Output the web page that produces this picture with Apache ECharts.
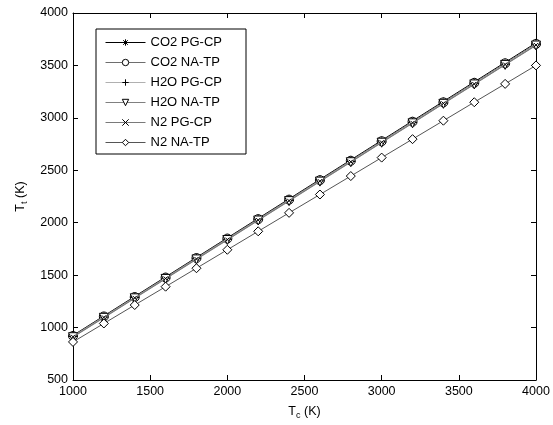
<!DOCTYPE html>
<html>
<head>
<meta charset="utf-8">
<script src="https://cdn.jsdelivr.net/npm/echarts@6/dist/echarts.min.js"></script>
<style>html,body{margin:0;padding:0;background:#fff}#c{width:553px;height:425px}</style>
</head>
<body>
<div id="c"></div>
<script>
const Tc = [1000,1200,1400,1600,1800,2000,2200,2400,2600,2800,3000,3200,3400,3600,3800,4000];
const CO2_PG_CP = [925,1111,1297,1483,1669,1855,2041,2227,2413,2599,2785,2971,3157,3343,3529,3715];
const CO2_NA_TP = [920,1106,1291,1477,1663,1849,2034,2220,2406,2591,2777,2963,3148,3334,3520,3705];
const H2O_PG_CP = [915,1100,1286,1471,1657,1842,2028,2213,2399,2584,2770,2955,3141,3326,3512,3697];
const H2O_NA_TP = [908,1093,1279,1464,1650,1835,2021,2206,2392,2577,2763,2948,3134,3319,3505,3690];
const N2_PG_CP = [912,1097,1283,1468,1654,1839,2025,2210,2396,2581,2767,2952,3138,3323,3509,3694];
const N2_NA_TP = [863,1039,1215,1390,1566,1742,1918,2094,2269,2445,2621,2797,2973,3149,3324,3500];
const seriesNames = ['CO2 PG-CP','CO2 NA-TP','H2O PG-CP','H2O NA-TP','N2 PG-CP','N2 NA-TP'];
const seriesData = [CO2_PG_CP, CO2_NA_TP, H2O_PG_CP, H2O_NA_TP, N2_PG_CP, N2_NA_TP];

const FONT = 'Liberation Sans, Arial, sans-serif';
const styles = [
  {lc:'#000000', sym:'path://M0,-5L0,5M-5,0L5,0M-3.6,-3.6L3.6,3.6M-3.6,3.6L3.6,-3.6', size:8, fill:'none'},
  {lc:'#6e6e6e', sym:'circle', size:9, fill:'#ffffff'},
  {lc:'#b0b0b0', sym:'path://M0,-5L0,5M-5,0L5,0', size:9, fill:'none'},
  {lc:'#808080', sym:'path://M-5,-4L5,-4L0,5Z', size:9, fill:'#ffffff'},
  {lc:'#7a7a7a', sym:'path://M-3,-3L3,3M-3,3L3,-3', size:4, fill:'none'},
  {lc:'#555555', sym:'diamond', size:9, fill:'#ffffff'}
];

const series = seriesNames.map((n, i) => ({
  name: n,
  type: 'line',
  data: Tc.map((x, j) => [x, seriesData[i][j]]),
  symbol: styles[i].sym,
  symbolSize: styles[i].size,
  showSymbol: true,
  lineStyle: {color: styles[i].lc, width: 1},
  itemStyle: {color: styles[i].fill, borderColor: '#000', borderWidth: 1},
  emphasis: {disabled: true},
  animation: false,
  z: 2 + i
}));

const axisCommon = {
  axisLine: {show: true, lineStyle: {color: '#000', width: 1}},
  axisTick: {show: true, inside: true, length: 5, lineStyle: {color: '#000'}},
  splitLine: {show: false}
};
const plainFmt = v => String(v);

const chart = echarts.init(document.getElementById('c'), null, {renderer: 'canvas'});
chart.setOption({
  backgroundColor: '#fff',
  animation: false,
  grid: {left: 73, right: 17, top: 13, bottom: 45, containLabel: false},
  legend: {
    orient: 'vertical',
    left: 96, top: 29,
    padding: [6, 24, 4, 9],
    itemWidth: 40, itemHeight: 8, itemGap: 5,
    borderColor: '#000', borderWidth: 1, backgroundColor: '#fff',
    lineStyle: {width: 1},
    itemStyle: {borderWidth: 1},
    textStyle: {fontFamily: FONT, fontSize: 13, color: '#000', lineHeight: 15},
    data: seriesNames,
    selectedMode: false
  },
  xAxis: [
    Object.assign({type: 'value', min: 1000, max: 4000, interval: 500, position: 'bottom',
      axisLabel: {color: '#000', fontFamily: FONT, fontSize: 12.5, margin: 5, formatter: plainFmt},
      name: 'T{s|c} (K)', nameLocation: 'middle', nameGap: 23,
      nameTextStyle: {color: '#000', fontFamily: FONT, fontSize: 12.5,
        rich: {s: {fontFamily: FONT, fontSize: 9, color: '#000', padding: [8, 0, 0, 0]}}}
    }, axisCommon),
    Object.assign({type: 'value', min: 1000, max: 4000, interval: 500, position: 'top',
      axisLabel: {show: false}}, axisCommon)
  ],
  yAxis: [
    Object.assign({type: 'value', min: 500, max: 4000, interval: 500, position: 'left',
      axisLabel: {color: '#000', fontFamily: FONT, fontSize: 12.5, margin: 5, formatter: plainFmt},
      name: 'T{s|t} (K)', nameLocation: 'middle', nameGap: 42, nameRotate: 90,
      nameTextStyle: {color: '#000', fontFamily: FONT, fontSize: 12.5,
        rich: {s: {fontFamily: FONT, fontSize: 9, color: '#000', padding: [8, 0, 0, 0]}}}
    }, axisCommon),
    Object.assign({type: 'value', min: 500, max: 4000, interval: 500, position: 'right',
      axisLabel: {show: false}}, axisCommon)
  ],
  series: series
});
</script>
</body>
</html>
